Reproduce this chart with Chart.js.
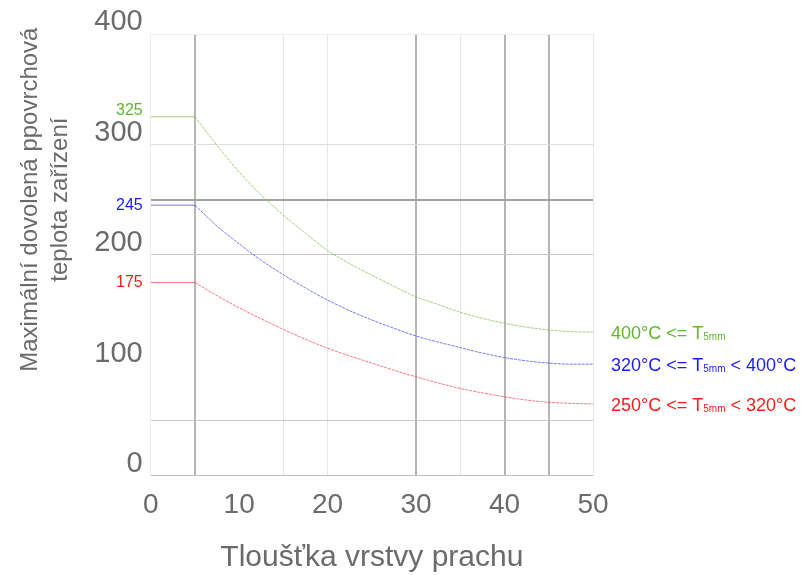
<!DOCTYPE html>
<html>
<head>
<meta charset="utf-8">
<script src="https://cdn.jsdelivr.net/npm/chart.js@4.4.1/dist/chart.umd.min.js"></script>
<style>
  html, body { margin: 0; padding: 0; background: #fff; }
  canvas { display: block; }
</style>
</head>
<body>
<canvas id="chart" width="803" height="575"></canvas>
<script>
// tloustka vrstvy prachu (mm)
const thickness = [0, 5, 7.5, 10, 12.5, 15, 17.5, 20, 22.5, 25, 27.5, 30, 32.5, 35, 37.5, 40, 42.5, 45, 47.5, 50];
// max. dovolena teplota pro jednotlive rozsahy T5mm
const tempHigh = [325, 325, 299, 275, 254, 236, 219.5, 204, 192, 181.5, 171.5, 162, 155, 148, 142.5, 138, 134.5, 132, 130.5, 130];
const tempMid  = [245, 245, 226, 210, 195, 182, 170, 159, 149.5, 141, 133.5, 126.5, 121, 116, 111, 107, 104, 102, 101, 101];
const tempLow  = [175, 175, 163, 152, 142, 132.5, 123.5, 115.5, 108.5, 102, 95.5, 89.5, 84, 79, 75, 71.5, 68.5, 66.5, 65.5, 65];

const yTickValues = [0, 50, 100, 175, 200, 245, 250, 300, 325, 400];
const yTickLabels = ['0', '', '100', '175', '200', '245', '', '300', '325', '400'];
const xTickLabels = ['0', '10', '20', '30', '40', '50'];

const seriesHead = ['400°C <= T', '320°C <= T', '250°C <= T'];
const seriesSub = '5mm';
const seriesTail = ['', ' < 400°C', ' < 320°C'];

const yTitle = ['Maximální dovolená ppovrchová', 'teplota zařízení'];
const xTitle = 'Tloušťka vrstvy prachu';

const textColors = ['#5fb82c', '#1a1aff', '#ff1a1a'];
const lineColors = ['rgba(120,190,70,0.7)', 'rgba(60,60,255,0.7)', 'rgba(255,60,60,0.7)'];
const grey = '#6b6b6b';
const FONT = '"Liberation Sans", Arial, sans-serif';

const KNEE = 5; // od 5 mm klesa krivka

function toPoints(ys, from, to) {
  const pts = [];
  thickness.forEach((x, i) => {
    if (x >= from && x <= to) pts.push({ x: x, y: ys[i] });
  });
  return pts;
}

// vodorovny usek 0-5 mm (plna cara)
function flatSet(ys, i) {
  return {
    data: toPoints(ys, 0, KNEE),
    borderColor: lineColors[i],
    borderWidth: 1,
    pointRadius: 0
  };
}

// klesajici usek 5-50 mm (teckovana cara)
function curveSet(ys, i) {
  return {
    data: toPoints(ys, KNEE, 50),
    borderColor: lineColors[i],
    borderWidth: 1,
    borderDash: [3, 1],
    pointRadius: 0,
    cubicInterpolationMode: 'monotone',
    endLabel: i
  };
}

const tickVal = ctx => (ctx && ctx.tick ? ctx.tick.value : null);

// popisky na konci krivek
const endLabels = {
  id: 'endLabels',
  afterDatasetsDraw(chart) {
    const c = chart.ctx;
    c.save();
    c.textBaseline = 'middle';
    chart.data.datasets.forEach((ds, k) => {
      if (ds.endLabel === undefined) return;
      const i = ds.endLabel;
      const pts = chart.getDatasetMeta(k).data;
      const last = pts[pts.length - 1];
      let x = chart.chartArea.right + 18;
      const y = last.y + 2;
      c.fillStyle = textColors[i];
      c.font = '18px ' + FONT;
      c.fillText(seriesHead[i], x, y);
      x += c.measureText(seriesHead[i]).width;
      c.font = '10px ' + FONT;
      c.fillText(seriesSub, x, y + 3);
      x += c.measureText(seriesSub).width;
      if (seriesTail[i]) {
        c.font = '18px ' + FONT;
        c.fillText(seriesTail[i], x, y);
      }
    });
    c.restore();
  }
};

// nazev osy y (dva radky, posunuty nahoru)
const yAxisTitle = {
  id: 'yAxisTitle',
  afterDraw(chart) {
    const c = chart.ctx;
    const cy = chart.scales.y.getPixelForValue(250);
    c.save();
    c.translate(45, cy);
    c.rotate(-Math.PI / 2);
    c.fillStyle = grey;
    c.font = '24px ' + FONT;
    c.textAlign = 'center';
    c.textBaseline = 'middle';
    c.fillText(yTitle[0], 0, -15);
    c.fillText(yTitle[1], 0, 15);
    c.restore();
  }
};

const xGrid = {
  5: ['#b5b5b5', 2], 15: ['#e6e6e6', 1], 20: ['#e6e6e6', 1], 30: ['#b5b5b5', 2],
  35: ['#e6e6e6', 1], 40: ['#b5b5b5', 2], 45: ['#b5b5b5', 2], 0: ['#eeeeee', 1], 50: ['#e6e6e6', 1]
};
const yGrid = {
  0: ['#c0c0c0', 1], 50: ['#c8c8c8', 1], 200: ['#c8c8c8', 1], 250: ['#a3a3a3', 2],
  300: ['#dddddd', 1], 400: ['#eeeeee', 1]
};
const none = ['rgba(0,0,0,0)', 0];

new Chart(document.getElementById('chart'), {
  type: 'line',
  data: {
    datasets: [
      flatSet(tempHigh, 0), curveSet(tempHigh, 0),
      flatSet(tempMid, 1), curveSet(tempMid, 1),
      flatSet(tempLow, 2), curveSet(tempLow, 2)
    ]
  },
  options: {
    responsive: false,
    animation: false,
    layout: { padding: { top: 34, right: 210, left: 0, bottom: 0 } },
    plugins: {
      legend: { display: false },
      tooltip: { enabled: false }
    },
    scales: {
      x: {
        type: 'linear',
        min: 0,
        max: 50,
        afterFit: s => { s.height = 99.3; },
        border: { display: false },
        grid: {
          drawTicks: false,
          color: ctx => (xGrid[tickVal(ctx)] || none)[0],
          lineWidth: ctx => (xGrid[tickVal(ctx)] || none)[1]
        },
        ticks: {
          stepSize: 5,
          autoSkip: false,
          maxRotation: 0,
          padding: 13,
          color: grey,
          font: { family: FONT, size: 28 },
          callback: v => (v % 10 === 0 ? xTickLabels[v / 10] : '')
        },
        title: {
          display: true,
          text: xTitle,
          color: grey,
          font: { family: FONT, size: 30, lineHeight: 1 },
          padding: { top: 0, bottom: 2 }
        }
      },
      y: {
        min: 0,
        max: 400,
        afterFit: s => { s.width = 150.7; },
        afterBuildTicks: s => { s.ticks = yTickValues.map(v => ({ value: v })); },
        border: { display: false },
        grid: {
          drawTicks: false,
          color: ctx => (yGrid[tickVal(ctx)] || none)[0],
          lineWidth: ctx => (yGrid[tickVal(ctx)] || none)[1]
        },
        ticks: {
          padding: 8,
          autoSkip: false,
          color: ctx => {
            const v = tickVal(ctx);
            if (v === 325) return textColors[0];
            if (v === 245) return textColors[1];
            if (v === 175) return textColors[2];
            return grey;
          },
          font: ctx => {
            const v = tickVal(ctx);
            if (v === 325) return { family: FONT, size: 16, lineHeight: 0.75 };
            if (v === 245 || v === 175) return { family: FONT, size: 16, lineHeight: 1.2 };
            return { family: FONT, size: 29, lineHeight: 0.8 };
          },
          callback: v => {
            const t = yTickLabels[yTickValues.indexOf(v)];
            if (!t) return '';
            if (v === 245 || v === 175) return t;
            return [t, ''];
          }
        }
      }
    }
  },
  plugins: [endLabels, yAxisTitle]
});
</script>
</body>
</html>
